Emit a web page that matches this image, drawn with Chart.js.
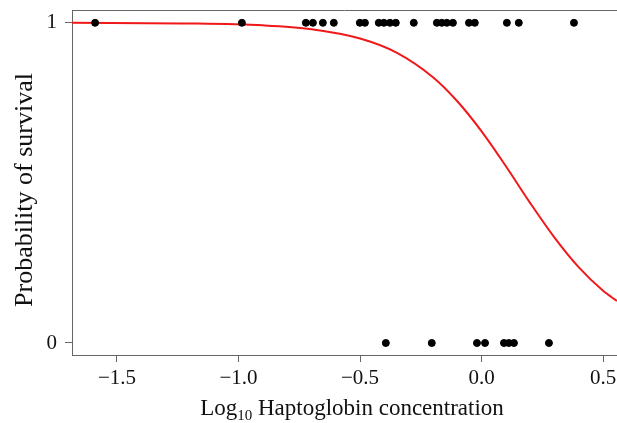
<!DOCTYPE html>
<html>
<head>
<meta charset="utf-8">
<script src="https://cdn.jsdelivr.net/npm/chart.js@4.4.1/dist/chart.umd.min.js"></script>
<style>
  html, body { margin: 0; padding: 0; background: #fff; }
  #wrap { width: 617px; height: 423px; }
</style>
</head>
<body>
<div id="wrap"><canvas id="chart" width="617" height="423"></canvas></div>
<script>
// log10 haptoglobin of animals that survived (y = 1) and died (y = 0)
const survivedX = [-1.59, -0.986, -0.723, -0.694, -0.653, -0.608, -0.501, -0.48,
    -0.423, -0.402, -0.377, -0.353, -0.279, -0.184, -0.164, -0.143, -0.118,
    -0.052, -0.028, 0.104, 0.153, 0.38];
const diedX = [-0.394, -0.205, -0.019, 0.014, 0.092, 0.112, 0.133, 0.277];

// fitted logistic curve
const curveX = [-1.685, -1.2, -0.9, -0.7, -0.5, -0.35, -0.2, -0.1, 0.0, 0.1, 0.2, 0.3, 0.4, 0.5, 0.557];
const curveP = [1.0, 0.998, 0.992, 0.98, 0.951, 0.907, 0.83, 0.755, 0.661, 0.552, 0.437, 0.329, 0.236, 0.163, 0.131];

const xTicks = [-1.5, -1.0, -0.5, 0.0, 0.5];
const yTicks = [0, 1];

const AXIS = '#666';
const FONT = "'Liberation Serif', 'Times New Roman', serif";

// draws the top frame line and both axis titles (x title needs a subscript)
const titles = {
    id: 'titles',
    afterDraw(chart) {
        const ctx = chart.ctx;
        const a = chart.chartArea;
        ctx.save();
        ctx.strokeStyle = AXIS;
        ctx.lineWidth = 1;
        ctx.beginPath();
        ctx.moveTo(a.left, a.top + 0.5);
        ctx.lineTo(a.right, a.top + 0.5);
        ctx.stroke();

        ctx.fillStyle = '#111';
        ctx.textBaseline = 'alphabetic';
        // x title
        const big = '23px ' + FONT, small = '15px ' + FONT;
        ctx.font = big;
        const w1 = ctx.measureText('Log').width;
        const w3 = ctx.measureText(' Haptoglobin concentration').width;
        ctx.font = small;
        const w2 = ctx.measureText('10').width;
        let x = 352 - (w1 + w2 + w3) / 2;
        const y = 415;
        ctx.font = big;
        ctx.textAlign = 'left';
        ctx.fillText('Log', x, y);
        x += w1;
        ctx.font = small;
        ctx.fillText('10', x, y + 5);
        x += w2;
        ctx.font = big;
        ctx.fillText(' Haptoglobin concentration', x, y);

        // y title
        ctx.translate(32, 190);
        ctx.rotate(-Math.PI / 2);
        ctx.textAlign = 'center';
        ctx.font = '26px ' + FONT;
        ctx.fillText('Probability of survival', 0, 0);
        ctx.restore();
    }
};

const fmt = v => v.toFixed(1).replace('-', '\u2212');

new Chart(document.getElementById('chart').getContext('2d'), {
    type: 'scatter',
    data: {
        datasets: [
            {
                label: 'Survived',
                data: survivedX.map(x => ({ x: x, y: 1 })),
                backgroundColor: '#000',
                borderColor: '#000',
                pointRadius: 3.5,
                order: 1
            },
            {
                label: 'Died',
                data: diedX.map(x => ({ x: x, y: 0 })),
                backgroundColor: '#000',
                borderColor: '#000',
                pointRadius: 3.5,
                order: 1
            },
            {
                label: 'Fit',
                data: curveX.map((x, i) => ({ x: x, y: curveP[i] })),
                showLine: true,
                borderColor: '#f01818',
                borderWidth: 2,
                pointRadius: 0,
                cubicInterpolationMode: 'monotone',
                order: 2
            }
        ]
    },
    plugins: [titles],
    options: {
        responsive: false,
        animation: false,
        layout: { autoPadding: false, padding: { top: 10, right: 0, left: 0, bottom: 0 } },
        plugins: {
            legend: { display: false },
            tooltip: { enabled: false }
        },
        scales: {
            x: {
                type: 'linear',
                min: -1.685,
                max: 0.557,
                afterBuildTicks: s => { s.ticks = xTicks.map(v => ({ value: v })); },
                afterFit: s => { s.height = 68; s.paddingLeft = 0; s.paddingRight = 0; },
                ticks: {
                    callback: v => fmt(v),
                    color: '#111',
                    font: { family: FONT, size: 21 },
                    padding: 4,
                    maxRotation: 0,
                    autoSkip: false
                },
                grid: { display: true, drawOnChartArea: false, drawTicks: true, tickLength: 7, color: AXIS },
                border: { display: true, color: AXIS }
            },
            y: {
                type: 'linear',
                min: -0.0375,
                max: 1.04,
                afterBuildTicks: s => { s.ticks = yTicks.map(v => ({ value: v })); },
                afterFit: s => { s.width = 72; s.paddingTop = 0; s.paddingBottom = 0; },
                ticks: {
                    callback: v => String(v),
                    color: '#111',
                    font: { family: FONT, size: 21 },
                    padding: 8
                },
                grid: { display: true, drawOnChartArea: false, drawTicks: true, tickLength: 7, color: AXIS },
                border: { display: true, color: AXIS }
            }
        }
    }
});
</script>
</body>
</html>
